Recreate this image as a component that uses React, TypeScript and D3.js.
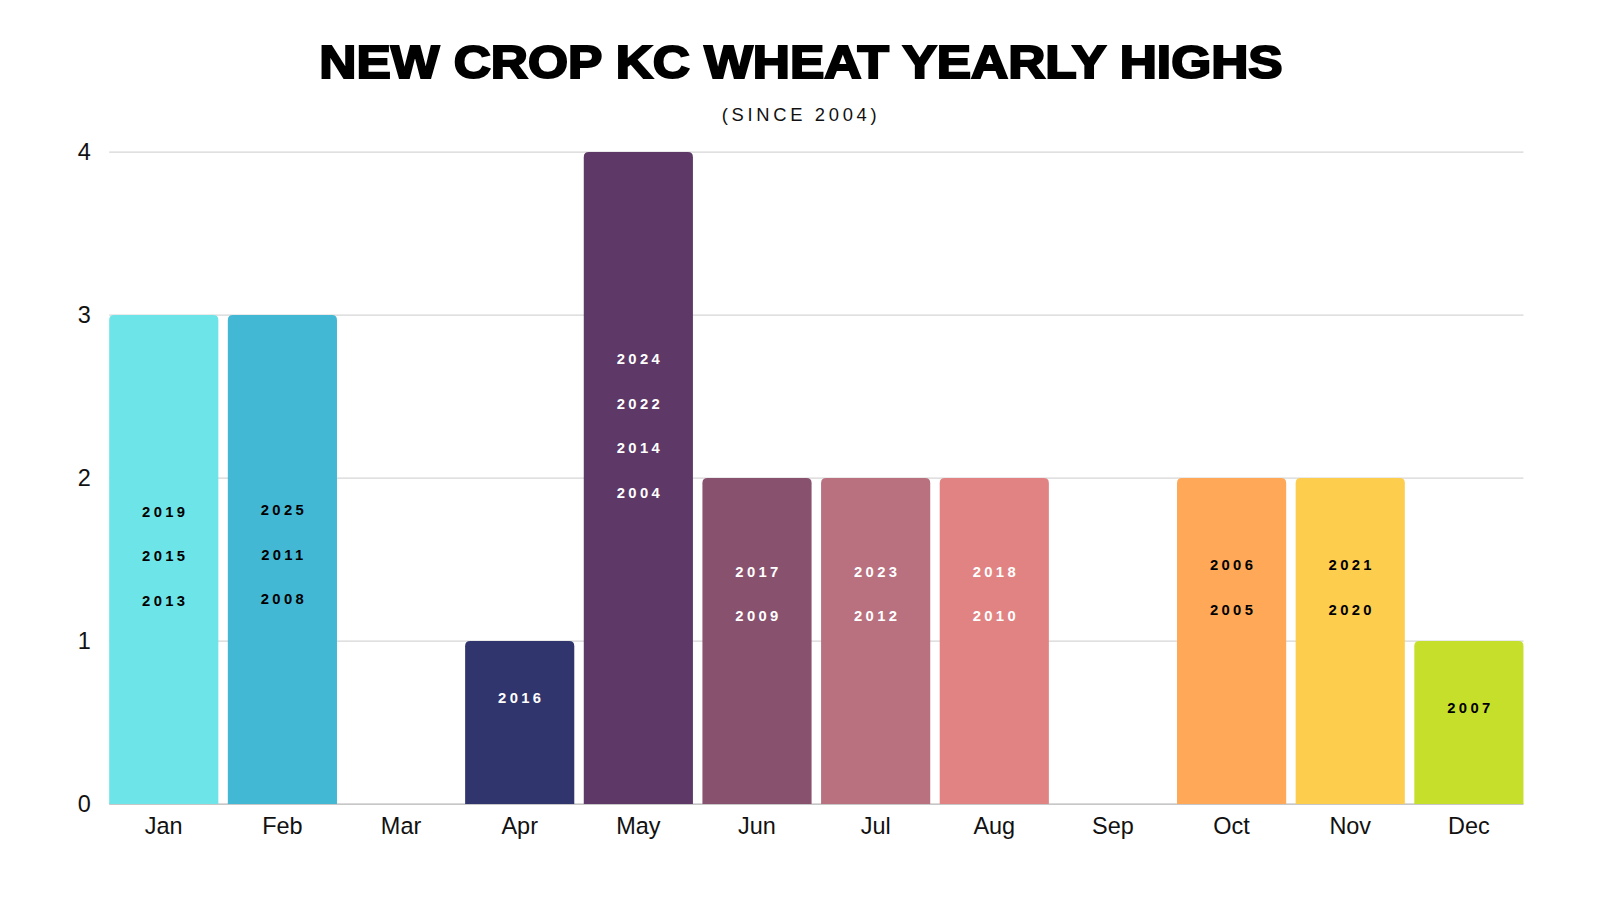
import React, { useRef, useEffect } from 'react';
import * as d3 from 'd3';

const months: string[] = ['Jan', 'Feb', 'Mar', 'Apr', 'May', 'Jun', 'Jul', 'Aug', 'Sep', 'Oct', 'Nov', 'Dec'];
const counts: number[] = [3, 3, 0, 1, 4, 2, 2, 2, 0, 2, 2, 1];
const years: string[][] = [
  ['2019', '2015', '2013'],
  ['2025', '2011', '2008'],
  [],
  ['2016'],
  ['2024', '2022', '2014', '2004'],
  ['2017', '2009'],
  ['2023', '2012'],
  ['2018', '2010'],
  [],
  ['2006', '2005'],
  ['2021', '2020'],
  ['2007'],
];
// middle of each label block, in chart units
const labelMid: number[] = [1.52, 1.53, 0, 0.65, 2.32, 1.29, 1.29, 1.29, 0, 1.33, 1.33, 0.59];
const barColors: string[] = [
  '#6de5e8', '#42b8d5', '#ffffff', '#31356e', '#5e3866', '#88526f',
  '#b9707f', '#e28383', '#ffffff', '#fea858', '#fdcd4e', '#c6df2b',
];
const darkBars: boolean[] = [false, false, false, true, true, true, true, true, false, false, false, false];
const yTicks: number[] = [0, 1, 2, 3, 4];

// drawing is laid out on a 1568x882 canvas and scaled to the page
const W = 1568;
const H = 882;

const App: React.FC = () => {
  const svgRef = useRef<SVGSVGElement | null>(null);

  useEffect(() => {
    document.body.style.margin = '0';
    document.body.style.overflow = 'hidden';
    if (!svgRef.current) return;
    const margin = { top: 149, right: 75, bottom: 94, left: 107 };

    const x = d3.scaleBand<string>()
      .domain(months)
      .range([margin.left, W - margin.right])
      .paddingInner(0.08)
      .paddingOuter(0);

    const y = d3.scaleLinear()
      .domain([0, 4])
      .range([H - margin.bottom, margin.top]);

    const svg = d3.select(svgRef.current);
    svg.selectAll('*').remove();

    svg.append('rect').attr('width', W).attr('height', H).attr('fill', '#fff');

    // title
    svg.append('text')
      .attr('x', 785)
      .attr('y', 76)
      .attr('text-anchor', 'middle')
      .attr('font-family', 'Liberation Sans, Arial, sans-serif')
      .attr('font-weight', 900)
      .attr('font-size', 45)
      .attr('fill', '#000')
      .attr('stroke', '#000')
      .attr('stroke-width', 2)
      .attr('textLength', 944)
      .attr('lengthAdjust', 'spacingAndGlyphs')
      .text('NEW CROP KC WHEAT YEARLY HIGHS');

    svg.append('text')
      .attr('x', 785)
      .attr('y', 119)
      .attr('text-anchor', 'middle')
      .attr('font-family', 'Liberation Sans, Arial, sans-serif')
      .attr('font-size', 18)
      .attr('letter-spacing', 3.6)
      .attr('fill', '#111')
      .text('(SINCE 2004)');

    // gridlines
    svg.append('g')
      .selectAll('line')
      .data(yTicks)
      .join('line')
      .attr('x1', margin.left)
      .attr('x2', W - margin.right)
      .attr('y1', d => y(d))
      .attr('y2', d => y(d))
      .attr('stroke', d => (d === 0 ? '#b5b5b5' : '#d6d6d6'))
      .attr('stroke-width', 1.2);

    // y labels
    svg.append('g')
      .selectAll('text')
      .data(yTicks)
      .join('text')
      .attr('x', 89)
      .attr('y', d => y(d))
      .attr('dy', '0.35em')
      .attr('text-anchor', 'end')
      .attr('font-family', 'Liberation Sans, Arial, sans-serif')
      .attr('font-size', 23)
      .attr('fill', '#111')
      .text(d => String(d));

    // bars with rounded top corners
    const r = 5;
    const barPath = (i: number) => {
      const x0 = x(months[i]) as number;
      const w = x.bandwidth();
      const y0 = y(0);
      const y1 = y(counts[i]);
      if (counts[i] === 0) return '';
      return `M${x0},${y0}V${y1 + r}Q${x0},${y1} ${x0 + r},${y1}H${x0 + w - r}Q${x0 + w},${y1} ${x0 + w},${y1 + r}V${y0}Z`;
    };

    svg.append('g')
      .selectAll('path')
      .data(months.map((_, i) => i))
      .join('path')
      .attr('d', i => barPath(i))
      .attr('fill', i => barColors[i]);

    // year labels
    const lineGap = 0.273; // chart units between lines
    const labels = svg.append('g')
      .attr('font-family', 'Liberation Sans, Arial, sans-serif')
      .attr('font-weight', 700)
      .attr('font-size', 14.5)
      .attr('letter-spacing', 3.3)
      .attr('text-anchor', 'middle');

    years.forEach((list, i) => {
      const n = list.length;
      list.forEach((yr, j) => {
        const v = labelMid[i] + ((n - 1) / 2 - j) * lineGap;
        labels.append('text')
          .attr('x', (x(months[i]) as number) + x.bandwidth() / 2 + 1.5)
          .attr('y', y(v))
          .attr('dy', '0.35em')
          .attr('fill', darkBars[i] ? '#fff' : '#000')
          .text(yr);
      });
    });

    // x labels
    svg.append('g')
      .selectAll('text')
      .data(months)
      .join('text')
      .attr('x', d => (x(d) as number) + x.bandwidth() / 2)
      .attr('y', 817)
      .attr('text-anchor', 'middle')
      .attr('font-family', 'Liberation Sans, Arial, sans-serif')
      .attr('font-size', 23)
      .attr('fill', '#111')
      .text(d => d);
  }, []);

  return (
    <svg
      ref={svgRef}
      width={1600}
      height={900}
      viewBox={`0 0 ${W} ${H}`}
      style={{ display: 'block' }}
    ></svg>
  );
};

export default App;
